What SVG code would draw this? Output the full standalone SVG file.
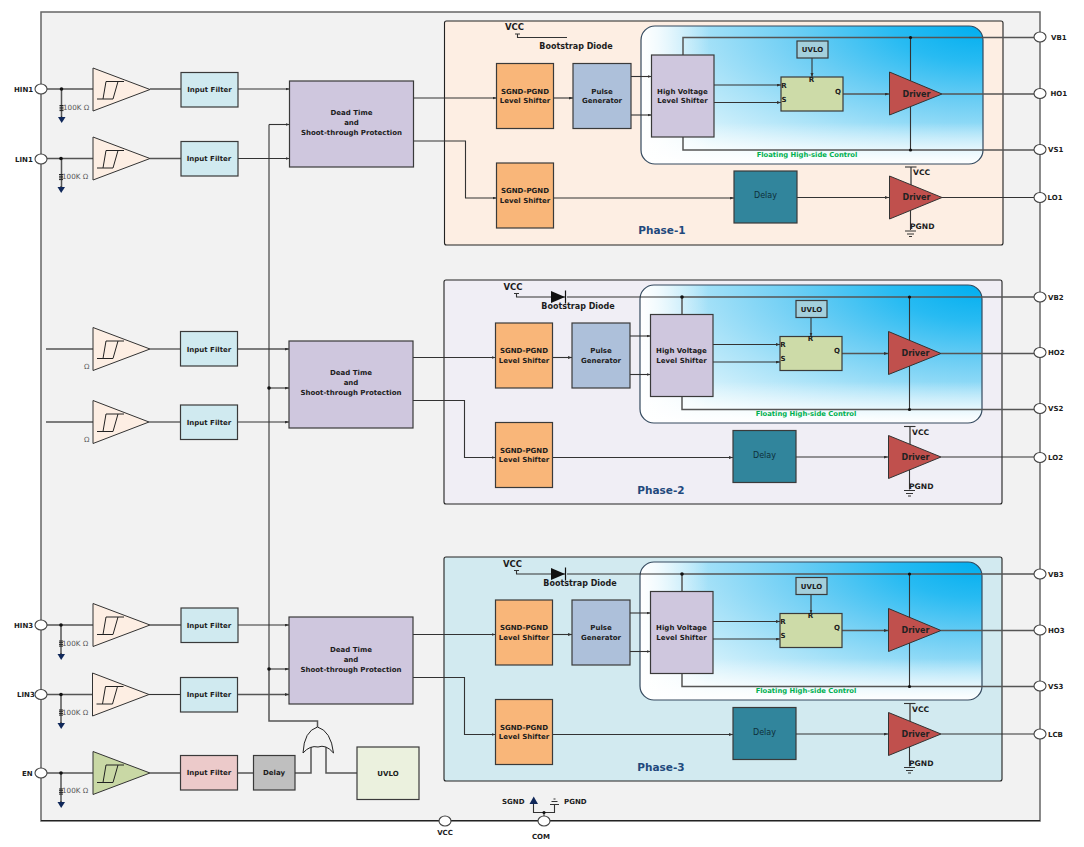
<svg xmlns="http://www.w3.org/2000/svg" xmlns:xlink="http://www.w3.org/1999/xlink" width="1084" height="847" viewBox="0 0 1084 847">
<style>
text{font-family:"DejaVu Sans","Liberation Sans",sans-serif;font-size:7px;font-weight:bold;fill:#1c1c1c;text-anchor:middle}
.l{text-anchor:start}
.b{stroke:#3a3a3a;stroke-width:1.2}
.sg{fill:#f9b679}.pu{fill:#adc0da}.hv{fill:#cfc7de}.sr{fill:#cddba8}.uv{fill:#a3cfdc}.dr{fill:#c0504d;stroke:#333;stroke-width:1}.de{fill:#31859c}.fi{fill:#d0eaf0}
.dt{font-weight:normal;fill:#0e2f3a;font-size:8px}
.dv{font-size:8px;fill:#222}
.vc{font-size:8.5px}
.bd{font-size:8px}
.lb{font-size:7.6px}
.w{fill:none;stroke:#333;stroke-width:1.1}
.g{fill:none;stroke:#555;stroke-width:1.5}
.a{marker-end:url(#ar)}
.d{fill:#111}
.r{font-weight:normal;fill:#555;font-size:7.2px}
.ph{font-size:10.5px;fill:#1f497d}
.fl{fill:#00b050;font-size:6.8px}
.pin{fill:#fff;stroke:#444;stroke-width:1.1}
.cp{stroke:#333;stroke-width:1}
.n{fill:#10285a}
.p0{fill:url(#fg)}.p1{fill:url(#fl)}.p2{fill:url(#fb)}
.p3{fill:none;stroke:#34495e;stroke-width:1.2}
</style>
<defs>
<marker id="ar" markerUnits="userSpaceOnUse" markerWidth="5" markerHeight="4" refX="4" refY="1.5" orient="auto"><path d="M0,0L4,1.5L0,3z" fill="#333"/></marker>
<radialGradient id="fg" cx="1" cy="0" r="1.2"><stop offset="0" stop-color="#00aeef"/><stop offset=".22" stop-color="#28bbf2"/><stop offset=".45" stop-color="#6acdf4"/><stop offset=".7" stop-color="#a8e2f8"/><stop offset="1" stop-color="#e8f8fd"/></radialGradient>
<linearGradient id="fl" x1="0" y1="0" x2="1" y2="0"><stop offset="0" stop-color="#fff"/><stop offset=".05" stop-color="#fff" stop-opacity=".8"/><stop offset=".2" stop-color="#fff" stop-opacity="0"/></linearGradient>
<linearGradient id="fb" x1="0" y1="0" x2="0" y2="1"><stop offset=".7" stop-color="#fff" stop-opacity="0"/><stop offset="1" stop-color="#fff"/></linearGradient>
<path id="sch" d="M4,9.5H20M13,-8H31M13,-8L10,9.5M25,-8L20,9.5" fill="none" stroke="#222" stroke-width="1"/>
<g id="gnd"><path class="w" d="M0,0V-1"/><path class="n" d="M-3.5,0H4L.2,6z"/></g>
<path id="res" d="M-2,0H2M-2,1.7H2M-2,3.4H2M-2,5.1H2" stroke="#222" stroke-width="1" fill="none"/>
<g id="wires">
<path class="w a" d="M413.5,98H496.5"/>
<path class="w a" d="M413.5,141H465.5V198H496.5"/>
<path class="w a" d="M553,98H573"/>
<path class="w a" d="M631,76.5H651.5"/>
<path class="w a" d="M631,115H651.5"/>
<path class="w a" d="M714,85H781"/>
<path class="w a" d="M714,102.5H781"/>
<path class="g" d="M683,55V37.5H1036"/>
<path class="g" d="M683,137V150H1036"/>
<path class="w" d="M910.5,37.5V82M910.5,105V150" stroke-width="1.4"/>
<circle class="d" cx="910.5" cy="37.5" r="1.6"/>
<circle class="d" cx="910.5" cy="150" r="1.6"/>
<path class="w a" d="M812,58V77"/>
<path class="g a" d="M843,94H889"/>
<path class="g" d="M942,94H1036"/>
<path class="w a" d="M553,198H734"/>
<path class="w a" d="M797,197.5H889"/>
<path class="w" d="M942,197.5H1036"/>
<path class="g" d="M911,186V167"/><path class="w" d="M905,167H916.5"/>
<path class="w" d="M910.5,209V230M905,231H916M907,234H914M909,236.5H912"/>
<path class="w" d="M515,34H520M517.5,34V37.5H567"/>
</g>
</defs>

<g id="chip"><path d="M41,12H1040V821H41z" fill="#f2f2f2" stroke="#666" stroke-width="1.5"/><path d="M41,820.5H1040" stroke="#222" stroke-width="1.2"/></g>

<g id="phase1-panel"><rect x="444.5" y="21" width="558.5" height="224" rx="2" fill="#fdeee3" stroke="#222" stroke-width="1.1"/><text class="ph" x="662" y="234">Phase-1</text></g>
<g id="phase2-panel"><rect x="444" y="280" width="558" height="224" rx="2" fill="#f0eef5" stroke="#222" stroke-width="1.1"/><text class="ph" x="661" y="494">Phase-2</text></g>
<g id="phase3-panel"><rect x="444" y="557" width="558" height="224" rx="2" fill="#d2eaf0" stroke="#222" stroke-width="1.1"/><text class="ph" x="661" y="771">Phase-3</text></g>

<g id="float1"><rect class="p0" x="641" y="26" width="342" height="138" rx="14"/><rect class="p1" x="641" y="26" width="342" height="138" rx="14"/><rect class="p2" x="641" y="26" width="342" height="138" rx="14"/><rect class="p3" x="641" y="26" width="342" height="138" rx="14"/><text class="fl" x="807" y="156.5">Floating High-side Control</text></g>
<g id="float2"><rect class="p0" x="640" y="285" width="342" height="138" rx="14"/><rect class="p1" x="640" y="285" width="342" height="138" rx="14"/><rect class="p2" x="640" y="285" width="342" height="138" rx="14"/><rect class="p3" x="640" y="285" width="342" height="138" rx="14"/><text class="fl" x="806" y="415.5">Floating High-side Control</text></g>
<g id="float3"><rect class="p0" x="640" y="562" width="342" height="138" rx="14"/><rect class="p1" x="640" y="562" width="342" height="138" rx="14"/><rect class="p2" x="640" y="562" width="342" height="138" rx="14"/><rect class="p3" x="640" y="562" width="342" height="138" rx="14"/><text class="fl" x="806" y="692.5">Floating High-side Control</text></g>

<g id="connectors">
<use xlink:href="#wires" href="#wires"/>
<use xlink:href="#wires" href="#wires" transform="translate(-1,259.5)"/>
<use xlink:href="#wires" href="#wires" transform="translate(-1,536.5)"/>
<path class="w" d="M567,297H682"/><path class="w" d="M567,574H682"/>
<circle class="d" cx="682" cy="297" r="1.8"/><circle class="d" cx="682" cy="574" r="1.8"/>
<path class="g" d="M47,89H93M150,89H181"/><path class="w a" d="M238,89H289.5"/>
<path class="g" d="M47,158.5H93M150,158.5H181"/><path class="w a" d="M238,158.5H289.5"/>
<path class="g" d="M46,349H93"/><path class="w" d="M150,349H180"/><path class="g a" d="M238,349H289"/>
<path class="g" d="M46,422H93"/><path class="w" d="M149,422H180"/><path class="w a" d="M238,422H289"/>
<path class="g" d="M47,625H93M150,625H181"/><path class="w a" d="M238,625H289"/>
<path class="g" d="M47,694.5H93"/><path class="w" d="M149,694.5H181"/><path class="g a" d="M238,694.5H289"/>
<path class="g" d="M47,773H93M150,773H181M238,773H253M295,773H311V746M326,746V773H357"/>
<path class="w a" d="M269,388H289"/><path class="w a" d="M269,669H289"/>
<path class="w a" d="M269,124.5H289.5"/>
<path class="w" d="M269,124.5V669"/><path class="g" d="M269,669V721H317.5V727"/>
<circle class="d" cx="269" cy="388" r="1.8"/><circle class="d" cx="269" cy="669" r="1.8"/>
<path class="g" d="M61.5,89V118M61.5,158.5V188M61,625V655M61,694.5V724M61,773V803"/>
<circle class="d" cx="61.5" cy="89" r="1.8"/><circle class="d" cx="61" cy="158.5" r="1.8"/><circle class="d" cx="61" cy="625" r="1.8"/><circle class="d" cx="61" cy="694.5" r="1.8"/><circle class="d" cx="61" cy="773" r="1.8"/>
<path class="w" d="M544,816V812.5M533.5,804V812.5H554.5V805M550,804.5H559M551.5,801.5H557.5M553.5,799H555.5" stroke-width="1.2"/>
<circle class="d" cx="544" cy="812.5" r="1.6"/>
<g id="diode2"><path d="M551,291L565,297L551,303z" fill="#111"/><path d="M565.5,290.5V303.5" stroke="#111" stroke-width="1.2"/></g>
<g id="diode3"><path d="M551,568L565,574L551,580z" fill="#111"/><path d="M565.5,567.5V580.5" stroke="#111" stroke-width="1.2"/></g>
</g>

<g id="comp-hin1" transform="translate(93,89.5)"><path class="cp" fill="#fdeee3" d="M0,-21.5L57,0L0,21.5z"/><use xlink:href="#sch" href="#sch"/></g>
<g id="res-hin1"><use xlink:href="#res" href="#res" x="61.5" y="105.5"/><text class="r l" x="63" y="110">100K Ω</text><use xlink:href="#gnd" href="#gnd" x="61.5" y="117"/></g>
<g id="comp-lin1" transform="translate(93,158.5)"><path class="cp" fill="#fdeee3" d="M0,-21.5L57,0L0,21.5z"/><use xlink:href="#sch" href="#sch"/></g>
<g id="res-lin1"><use xlink:href="#res" href="#res" x="61" y="174.5"/><text class="r l" x="62" y="179">100K Ω</text><use xlink:href="#gnd" href="#gnd" x="61" y="187"/></g>
<g id="comp-in2a" transform="translate(93,349)"><path class="cp" fill="#fdeee3" d="M0,-21.5L57,0L0,21.5z"/><use xlink:href="#sch" href="#sch"/></g>
<g id="res-in2a"><text class="r l" x="84" y="369">Ω</text></g>
<g id="comp-in2b" transform="translate(93,422)"><path class="cp" fill="#fdeee3" d="M0,-21.5L56,0L0,21.5z"/><use xlink:href="#sch" href="#sch"/></g>
<g id="res-in2b"><text class="r l" x="84" y="442">Ω</text></g>
<g id="comp-hin3" transform="translate(93,625)"><path class="cp" fill="#fdeee3" d="M0,-21.5L57,0L0,21.5z"/><use xlink:href="#sch" href="#sch"/></g>
<g id="res-hin3"><use xlink:href="#res" href="#res" x="61" y="641"/><text class="r l" x="62" y="646">100K Ω</text><use xlink:href="#gnd" href="#gnd" x="61" y="654"/></g>
<g id="comp-lin3" transform="translate(92.5,694.5)"><path class="cp" fill="#fdeee3" d="M0,-21.5L56.5,0L0,21.5z"/><use xlink:href="#sch" href="#sch"/></g>
<g id="res-lin3"><use xlink:href="#res" href="#res" x="61" y="710"/><text class="r l" x="62" y="715">100K Ω</text><use xlink:href="#gnd" href="#gnd" x="61" y="723"/></g>
<g id="comp-en" transform="translate(93,773)"><path class="cp" fill="#c9d8a5" d="M0,-21.5L57,0L0,21.5z"/><use xlink:href="#sch" href="#sch"/></g>
<g id="res-en"><use xlink:href="#res" href="#res" x="61" y="789"/><text class="r l" x="62" y="793">100K Ω</text><use xlink:href="#gnd" href="#gnd" x="61" y="802"/></g>

<g id="filter-hin1"><rect class="fi b" x="181" y="72.5" width="57" height="34.5"/><text x="209.5" y="91.5">Input Filter</text></g>
<g id="filter-lin1"><rect class="fi b" x="181" y="141.5" width="57" height="34.5"/><text x="209" y="160.5">Input Filter</text></g>
<g id="filter-2a"><rect class="fi b" x="180.5" y="331.5" width="57" height="34.5"/><text x="209" y="351.5">Input Filter</text></g>
<g id="filter-2b"><rect class="fi b" x="180.5" y="405" width="57" height="34.5"/><text x="209" y="424.5">Input Filter</text></g>
<g id="filter-hin3"><rect class="fi b" x="181" y="608" width="57" height="34.5"/><text x="209" y="628">Input Filter</text></g>
<g id="filter-lin3"><rect class="fi b" x="180.5" y="677.5" width="57" height="34.5"/><text x="209" y="696.5">Input Filter</text></g>
<g id="filter-en"><rect class="b" fill="#eccaca" x="180.5" y="755.5" width="57" height="34.5"/><text x="209" y="774.5">Input Filter</text></g>
<g id="delay-en"><rect class="b" fill="#bfbfbf" x="253.5" y="755.5" width="41.5" height="34.5"/><text x="274" y="774.5">Delay</text></g>
<g id="or-gate"><path d="M303,753Q304,731 317.5,727Q331,731 333.5,753Q326,744 318,747Q310,745 303,753z" fill="#f2f2f2" stroke="#222" stroke-width="1"/></g>
<g id="uvlo-main"><rect class="b" fill="#ebf1de" x="357" y="747" width="62" height="52.5"/><text x="388" y="775.5">UVLO</text></g>

<g id="dead1"><rect class="hv b" x="289.5" y="81" width="124" height="86"/><text x="351.5" y="115">Dead Time</text><text x="351.5" y="125">and</text><text x="351.5" y="135">Shoot-through Protection</text></g>
<g id="dead2"><rect class="hv b" x="289" y="341" width="124" height="87"/><text x="351" y="375">Dead Time</text><text x="351" y="385">and</text><text x="351" y="395">Shoot-through Protection</text></g>
<g id="dead3"><rect class="hv b" x="289" y="617" width="124" height="87"/><text x="351" y="652">Dead Time</text><text x="351" y="662">and</text><text x="351" y="672">Shoot-through Protection</text></g>

<g id="vcc1"><text class="vc" x="514.5" y="30">VCC</text><text class="bd" x="576" y="49">Bootstrap Diode</text></g>
<g id="sgnd1a"><rect class="sg b" x="496.5" y="63.5" width="57" height="65"/><text x="525" y="93.5">SGND-PGND</text><text x="525" y="103">Level Shifter</text></g>
<g id="sgnd1b"><rect class="sg b" x="496.5" y="163" width="57" height="65"/><text x="525" y="193">SGND-PGND</text><text x="525" y="202.5">Level Shifter</text></g>
<g id="pulse1"><rect class="pu b" x="573" y="63.5" width="58" height="65"/><text x="602" y="93.5">Pulse</text><text x="602" y="103">Generator</text></g>
<g id="hv1"><rect class="hv b" x="651.5" y="55" width="62.5" height="82"/><text x="682.5" y="93.5">High Voltage</text><text x="682.5" y="103">Level Shifter</text></g>
<g id="sr1"><rect class="sr b" x="781" y="77" width="62" height="34"/><text x="784" y="87.5">R</text><text x="784" y="101.5">S</text><text x="838" y="93.5">Q</text><text x="811.5" y="81.5">R</text></g>
<g id="uvlo1"><rect class="uv b" x="797" y="41" width="31" height="17"/><text x="812.5" y="52">UVLO</text></g>
<g id="driver1h"><path class="dr" d="M889.5,72L942,94L889.5,115z"/><text class="dv" x="916.5" y="96.5">Driver</text></g>
<g id="delay1"><rect class="de b" x="734" y="171" width="63" height="52"/><text class="dt" x="765.5" y="198">Delay</text></g>
<g id="driver1l"><path class="dr" d="M889.5,176L942,197.5L889.5,219z"/><text class="dv" x="916.5" y="200">Driver</text></g>
<g id="lbl1"><text class="l lb" x="913" y="175">VCC</text><text class="l lb" x="910" y="229">PGND</text></g>

<g id="vcc2"><text class="vc" x="513" y="290">VCC</text><text class="bd" x="578" y="308.5">Bootstrap Diode</text></g>
<g id="sgnd2a"><rect class="sg b" x="495.5" y="323" width="57" height="65"/><text x="524" y="353">SGND-PGND</text><text x="524" y="362.5">Level Shifter</text></g>
<g id="sgnd2b"><rect class="sg b" x="495.5" y="422.5" width="57" height="65"/><text x="524" y="452.5">SGND-PGND</text><text x="524" y="462">Level Shifter</text></g>
<g id="pulse2"><rect class="pu b" x="572" y="323" width="58" height="65"/><text x="601" y="353">Pulse</text><text x="601" y="362.5">Generator</text></g>
<g id="hv2"><rect class="hv b" x="650.5" y="314.5" width="62.5" height="82"/><text x="681.5" y="353">High Voltage</text><text x="681.5" y="362.5">Level Shifter</text></g>
<g id="sr2"><rect class="sr b" x="780" y="336.5" width="62" height="34"/><text x="783" y="347">R</text><text x="783" y="361">S</text><text x="837" y="353">Q</text><text x="810.5" y="341">R</text></g>
<g id="uvlo2"><rect class="uv b" x="796" y="300.5" width="31" height="17"/><text x="811.5" y="311.5">UVLO</text></g>
<g id="driver2h"><path class="dr" d="M888.5,331.5L941,353.5L888.5,374.5z"/><text class="dv" x="915.5" y="356">Driver</text></g>
<g id="delay2"><rect class="de b" x="733" y="430.5" width="63" height="52"/><text class="dt" x="764.5" y="457.5">Delay</text></g>
<g id="driver2l"><path class="dr" d="M888.5,435.5L941,457L888.5,478.5z"/><text class="dv" x="915.5" y="459.5">Driver</text></g>
<g id="lbl2"><text class="l lb" x="912" y="434.5">VCC</text><text class="l lb" x="909" y="488.5">PGND</text></g>

<g id="vcc3"><text class="vc" x="512.5" y="567">VCC</text><text class="bd" x="580" y="585.5">Bootstrap Diode</text></g>
<g id="sgnd3a"><rect class="sg b" x="495.5" y="600" width="57" height="65"/><text x="524" y="630">SGND-PGND</text><text x="524" y="639.5">Level Shifter</text></g>
<g id="sgnd3b"><rect class="sg b" x="495.5" y="699.5" width="57" height="65"/><text x="524" y="729.5">SGND-PGND</text><text x="524" y="739">Level Shifter</text></g>
<g id="pulse3"><rect class="pu b" x="572" y="600" width="58" height="65"/><text x="601" y="630">Pulse</text><text x="601" y="639.5">Generator</text></g>
<g id="hv3"><rect class="hv b" x="650.5" y="591.5" width="62.5" height="82"/><text x="681.5" y="630">High Voltage</text><text x="681.5" y="639.5">Level Shifter</text></g>
<g id="sr3"><rect class="sr b" x="780" y="613.5" width="62" height="34"/><text x="783" y="624">R</text><text x="783" y="638">S</text><text x="837" y="630">Q</text><text x="810.5" y="618">R</text></g>
<g id="uvlo3"><rect class="uv b" x="796" y="577.5" width="31" height="17"/><text x="811.5" y="588.5">UVLO</text></g>
<g id="driver3h"><path class="dr" d="M888.5,608.5L941,630.5L888.5,651.5z"/><text class="dv" x="915.5" y="633">Driver</text></g>
<g id="delay3"><rect class="de b" x="733" y="707.5" width="63" height="52"/><text class="dt" x="764.5" y="734.5">Delay</text></g>
<g id="driver3l"><path class="dr" d="M888.5,712.5L941,734L888.5,755.5z"/><text class="dv" x="915.5" y="736.5">Driver</text></g>
<g id="lbl3"><text class="l lb" x="912" y="711.5">VCC</text><text class="l lb" x="909" y="765.5">PGND</text></g>

<g id="pin-hin1"><ellipse class="pin" cx="41" cy="89" rx="6" ry="5"/><text class="l" x="14" y="91.5">HIN1</text></g>
<g id="pin-lin1"><ellipse class="pin" cx="41" cy="159" rx="6" ry="5"/><text class="l" x="15" y="161.5">LIN1</text></g>
<g id="pin-hin3"><ellipse class="pin" cx="41" cy="625" rx="6" ry="5"/><text class="l" x="14" y="627.5">HIN3</text></g>
<g id="pin-lin3"><ellipse class="pin" cx="41" cy="694.5" rx="6" ry="5"/><text class="l" x="17" y="697">LIN3</text></g>
<g id="pin-en"><ellipse class="pin" cx="41" cy="773" rx="6" ry="5"/><text class="l" x="22" y="776">EN</text></g>
<g id="pin-vb1"><ellipse class="pin" cx="1040" cy="37" rx="6" ry="5"/><text class="l" x="1051" y="39.5">VB1</text></g>
<g id="pin-ho1"><ellipse class="pin" cx="1040" cy="93.5" rx="6" ry="5"/><text class="l" x="1050.5" y="96">HO1</text></g>
<g id="pin-vs1"><ellipse class="pin" cx="1040" cy="149.5" rx="6" ry="5"/><text class="l" x="1048" y="152">VS1</text></g>
<g id="pin-lo1"><ellipse class="pin" cx="1040" cy="197.5" rx="6" ry="5"/><text class="l" x="1047.5" y="200">LO1</text></g>
<g id="pin-vb2"><ellipse class="pin" cx="1040" cy="297" rx="6" ry="5"/><text class="l" x="1048" y="299.5">VB2</text></g>
<g id="pin-ho2"><ellipse class="pin" cx="1040" cy="352.5" rx="6" ry="5"/><text class="l" x="1048" y="355">HO2</text></g>
<g id="pin-vs2"><ellipse class="pin" cx="1040" cy="408.5" rx="6" ry="5"/><text class="l" x="1048" y="411">VS2</text></g>
<g id="pin-lo2"><ellipse class="pin" cx="1040" cy="457.5" rx="6" ry="5"/><text class="l" x="1048" y="460">LO2</text></g>
<g id="pin-vb3"><ellipse class="pin" cx="1040" cy="574" rx="6" ry="5"/><text class="l" x="1048" y="576.5">VB3</text></g>
<g id="pin-ho3"><ellipse class="pin" cx="1040" cy="630" rx="6" ry="5"/><text class="l" x="1048" y="632.5">HO3</text></g>
<g id="pin-vs3"><ellipse class="pin" cx="1040" cy="686" rx="6" ry="5"/><text class="l" x="1048" y="688.5">VS3</text></g>
<g id="pin-lo3"><ellipse class="pin" cx="1040" cy="734" rx="6" ry="5"/><text class="l" x="1048" y="736.5">LCB</text></g>
<g id="pin-vcc"><ellipse class="pin" cx="445" cy="821" rx="6" ry="5"/><text x="445" y="835">VCC</text></g>
<g id="pin-com"><ellipse class="pin" cx="544" cy="821" rx="6" ry="5"/><text x="541" y="839">COM</text></g>
<g id="sgnd-sym"><path class="n" d="M529.5,804L533.7,796.5L538,804z"/><text class="l" x="502" y="804">SGND</text></g>
<g id="pgnd-lbl"><text class="l" x="564" y="804">PGND</text></g>
</svg>
